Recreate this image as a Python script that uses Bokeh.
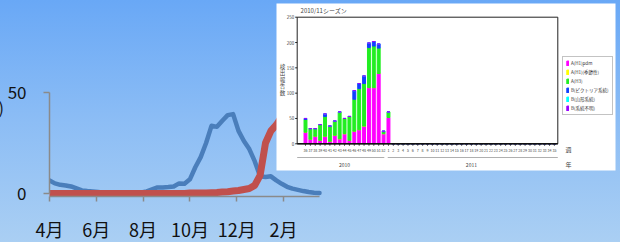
import numpy as np
from bokeh.plotting import figure
from bokeh.models import (ColumnDataSource, FixedTicker, Range1d, Legend, LegendItem, Div,
                          GlobalInlineStyleSheet)
from bokeh.layouts import column
from bokeh.embed import file_html
from bokeh.resources import INLINE
from bokeh.core.properties import value

# ---------------- main chart data (weekly, week 0 = start of April) ----------------
blue_vals = [6.5, 5, 4.3, 4, 3.5, 2.5, 1.5, 1.2, 1, 0.7, 0.4, 0.3, 0.3, 0.3, 0.3, 0.3, 0.3,
             0.5, 1, 2, 3, 3, 3.2, 3.5, 5, 4.8, 7, 13, 18, 25, 33.5, 33, 36, 38.8, 39.3,
             31, 26, 22, 16, 8.5, 8.2, 8.5, 6.5, 4.8, 3.3, 2.4, 1.8, 1.2, 0.7, 0.4, 0.3]
red_vals = [0] * 26 + [0.2, 0.2, 0.3, 0.3, 0.4, 0.5, 0.7, 0.9, 1.2, 1.5, 2, 2.5, 4, 9, 25,
                       31, 34, 38]
month_ticks = [0, 2, 4, 6, 8, 10]
month_labels = ["4月", "6月", "8月", "10月", "12月", "2月"]
y_ticks = [0, 50]
unit_label = "(人)"

# ---------------- inset data (2010/11 season) ----------------
inset_title = "2010/11シーズン"
weeks_2010 = [str(w) for w in range(36, 53)]
weeks_2011 = [str(w) for w in range(1, 36)]
year_labels = ["2010", "2011"]
pdm = [23, 9, 15, 7, 15, 5, 17, 10, 20, 7, 25, 28, 35, 111, 111, 139, 20] + [52] + [0] * 34
h1_seasonal = [0] * 52
h3 = [25, 21, 15, 31, 39, 30, 28, 53, 30, 47, 63, 81, 84, 79, 82, 50, 4] + [11] + [0] * 34
b_vic = [2, 0, 0, 0, 5, 0, 0, 0, 0, 0, 17, 10, 15, 9, 9, 8, 1] + [0] + [0] * 34
b_yam = [0] * 52
b_unk = [0] * 52
series_labels = ["A(H1)pdm", "A(H1)(季節性)", "A(H3)", "B(ビクトリア系統)", "B(山形系統)", "B(系統不明)"]
series_colors = ["#ff00ff", "#ffff00", "#22ee22", "#1040ff", "#00ffff", "#9900ff"]
inset_y_ticks = [0, 50, 100, 150, 200, 250]
inset_y_title = "検出報告数"
week_unit = "週"
year_unit = "年"

CJK = "Noto Sans CJK JP"

# ---------------- layout geometry (pixels) ----------------
FL, FW, FH = 49, 571, 196          # main frame left, width, height (frame top at 0)
PX_MONTH, PX_UNIT, ZERO_Y = 23.4, 2.02, 193
IX0, IDX = 305, 4.88                # inset: first category centre, px per category
IY0, IKY = 143.3, 0.5064            # inset: zero line, px per count
IN_L, IN_R = 296.7, 557.3           # inset plot frame left / right
BOX = (276, 615, 3, 170)            # inset white panel left, right, top, bottom


def ux(px):
    return (px - IX0) / IDX


def uy(py):
    return (IY0 - py) / IKY


# ---------------- main figure ----------------
src_b = ColumnDataSource(dict(x=np.arange(len(blue_vals)) * 12 / 52, y=blue_vals))
src_r = ColumnDataSource(dict(x=np.arange(len(red_vals)) * 12 / 52, y=red_vals))

p = figure(frame_width=FW, frame_height=FH,
           x_range=Range1d(0, FW / PX_MONTH),
           y_range=Range1d(-(FH - ZERO_Y) / PX_UNIT, ZERO_Y / PX_UNIT),
           output_backend="svg", toolbar_location=None,
           min_border_left=FL, min_border_right=0, min_border_top=0, min_border_bottom=44,
           background_fill_alpha=0, border_fill_alpha=0, outline_line_color=None)
p.grid.visible = False
p.extra_x_ranges = {"ix": Range1d(ux(FL), ux(FL + FW))}
p.extra_y_ranges = {"iy": Range1d(uy(FH), uy(0))}

p.line("x", "y", source=src_b, line_color="#4a7ebb", line_width=4.5,
       line_join="round", line_cap="round")
p.line("x", "y", source=src_r, line_color="#c0504d", line_width=7,
       line_join="round", line_cap="round")

xa = p.xaxis[0]
xa.bounds = (0, 12 * 50 / 52)
xa.ticker = FixedTicker(ticks=month_ticks)
xa.major_label_overrides = {t: l for t, l in zip(month_ticks, month_labels)}
ya = p.yaxis[0]
ya.bounds = (0, 50)
ya.ticker = FixedTicker(ticks=y_ticks)
for ax in (xa, ya):
    ax.axis_line_color = "#8a8a8a"
    ax.axis_line_width = 1.5
    ax.major_tick_line_color = "#8a8a8a"
    ax.major_tick_line_width = 1.5
    ax.major_tick_in = 0
    ax.minor_tick_line_color = None
    ax.major_label_text_color = "#111111"
    ax.major_label_text_font = CJK
xa.major_tick_out = 5
xa.major_label_standoff = 14
xa.major_label_text_font_size = "18px"
ya.major_tick_out = 6
ya.major_label_standoff = 17
ya.major_label_text_font_size = "17px"

# ---------------- inset (drawn on the inset scales) ----------------
IR = dict(x_range_name="ix", y_range_name="iy")
x_lo, x_hi = ux(IN_L), ux(IN_R)
cat_x = list(range(len(weeks_2010) + len(weeks_2011)))

p.quad(left=[ux(BOX[0])], right=[ux(BOX[1])], top=[uy(BOX[2])], bottom=[uy(BOX[3])],
       fill_color="white", line_color=None, **IR)

keys = ["pdm", "h1s", "h3", "bv", "by", "bu"]
src_i = ColumnDataSource(dict(x=cat_x, pdm=pdm, h1s=h1_seasonal, h3=h3, bv=b_vic,
                              by=b_yam, bu=b_unk))
rs = p.vbar_stack(keys, x="x", width=0.6, color=series_colors, source=src_i, **IR)

# plot frame and axes of the inset
p.quad(left=[x_lo], right=[x_hi], bottom=[inset_y_ticks[0]], top=[inset_y_ticks[-1]],
       fill_color=None, line_color="#222222", line_width=1, **IR)
p.segment(x0=[x_lo], x1=[x_hi], y0=[0], y1=[0], line_color="#111111", line_width=1.5, **IR)
p.segment(x0=[ux(IN_L - 2)] * len(inset_y_ticks), x1=[x_lo] * len(inset_y_ticks),
          y0=inset_y_ticks, y1=inset_y_ticks, line_color="#222222", line_width=1, **IR)
p.segment(x0=cat_x, x1=cat_x, y0=[0] * len(cat_x), y1=[uy(IY0 + 2)] * len(cat_x),
          line_color="#222222", line_width=0.8, **IR)

small = dict(text_font=value(CJK), text_color="#444444")
p.text(x=[ux(IN_L - 3)] * len(inset_y_ticks), y=inset_y_ticks,
       text=[str(t) for t in inset_y_ticks], text_font_size="4.5px",
       text_align="right", text_baseline="middle", **small, **IR)
p.text(x=cat_x, y=[uy(150)] * len(cat_x), text=weeks_2010 + weeks_2011,
       text_font_size="3.6px", text_align="center", text_baseline="middle", **small, **IR)
n10 = len(weeks_2010)
p.text(x=[(n10 - 1) / 2, n10 + (len(weeks_2011) - 1) / 2], y=[uy(164)] * 2, text=year_labels,
       text_font_size="5px", text_align="center", text_baseline="middle", **small, **IR)
p.segment(x0=[x_lo, n10 - 0.5 + 0.35], x1=[n10 - 0.5 - 0.35, x_hi],
          y0=[uy(157)] * 2, y1=[uy(157)] * 2, line_color="#9a9a9a", line_width=0.8, **IR)
p.text(x=[x_lo + 0.7], y=[uy(10)], text=[inset_title], text_font_size="6px",
       text_align="left", text_baseline="middle", **small, **IR)
title_chars = list(inset_y_title)
p.text(x=[ux(282)] * len(title_chars),
       y=[uy(66 + 6.5 * i) for i in range(len(title_chars))], text=title_chars,
       text_font_size="5.5px", text_align="center", text_baseline="middle", **small, **IR)
p.text(x=[ux(568)] * 2, y=[uy(149), uy(164)], text=[week_unit, year_unit],
       text_font_size="6px", text_align="center", text_baseline="middle", **small, **IR)

legend = Legend(items=[LegendItem(label=l, renderers=[r]) for l, r in zip(series_labels, rs)],
                location=(562 - FL, FH - 115))
legend.label_text_font = CJK
legend.label_text_font_size = "4.5px"
legend.label_text_color = "#333333"
legend.glyph_width = 3
legend.glyph_height = 6
legend.label_height = 6
legend.label_standoff = 2
legend.spacing = 3
legend.padding = 3
legend.margin = 0
legend.border_line_color = "#888888"
legend.background_fill_color = "white"
p.add_layout(legend)

unit_div = Div(text=unit_label, width=40, height=22,
               styles={"position": "absolute", "left": "-28px", "top": "94px",
                       "font-family": CJK, "font-size": "16px", "line-height": "1",
                       "color": "#111111", "white-space": "nowrap"})

root = column(p, unit_div)
root.styles = {"position": "relative"}
root.stylesheets = [GlobalInlineStyleSheet(
    css="html, body { margin: 0; padding: 0; overflow: hidden; "
        "background: linear-gradient(180deg, #69a8f6 0%, #8cbdf5 50%, #aacff3 100%); }")]

open("out.html", "w").write(file_html(root, INLINE))
